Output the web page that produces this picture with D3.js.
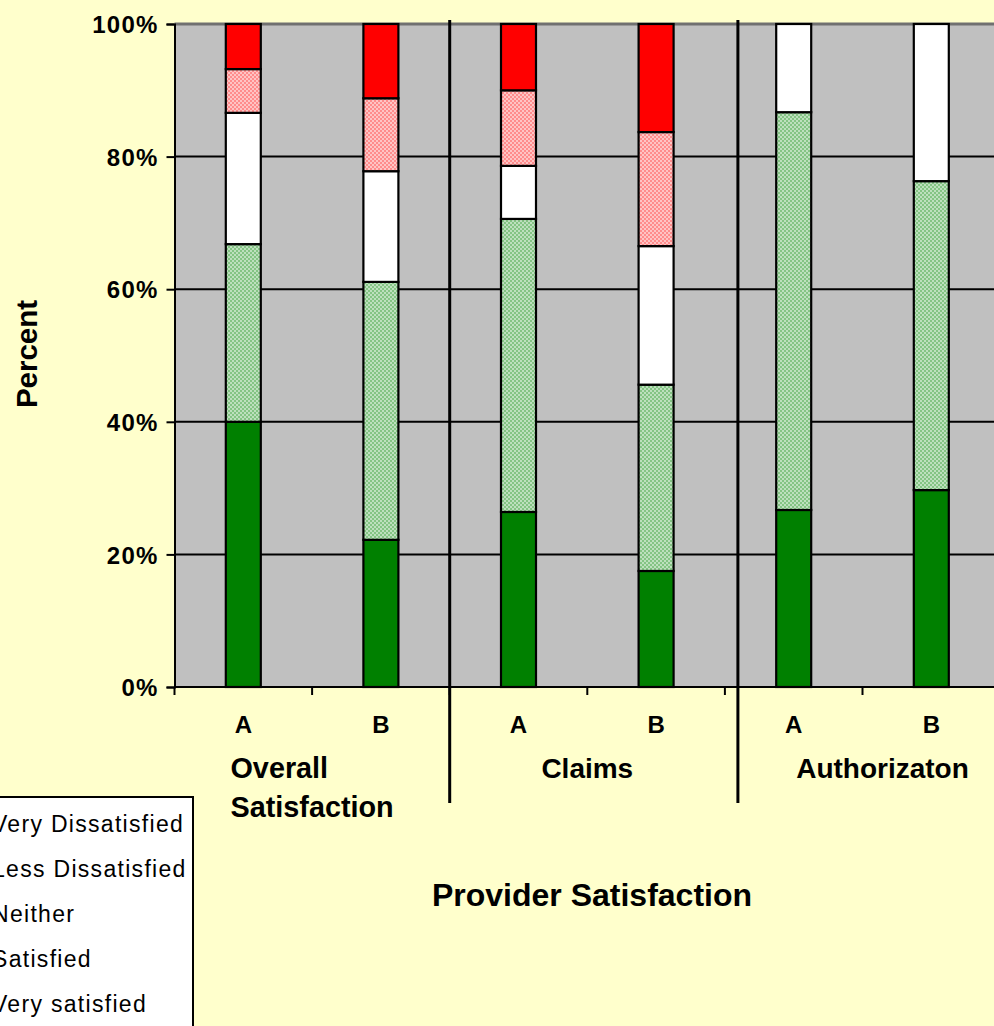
<!DOCTYPE html>
<html><head><meta charset="utf-8">
<script src="https://cdn.jsdelivr.net/npm/d3@7"></script>
<style>
html,body{margin:0;padding:0;background:#FFFFCC;overflow:hidden}
svg{display:block}
text{font-family:Arial,"Liberation Sans",sans-serif;fill:#000}
</style></head>
<body>
<script>
// ---- data ----
const groups = ["Overall Satisfaction", "Claims", "Authorizaton"];
const subLabels = ["A", "B", "A", "B", "A", "B"];
const seriesNames = ["Very Dissatisfied", "Less Dissatisfied", "Neither", "Satisfied", "Very satisfied"];
const veryDissatisfied = [6.8, 11.2, 10.0, 16.3, 0, 0];
const lessDissatisfied = [6.6, 11.0, 11.4, 17.2, 0, 0];
const neither = [19.8, 16.7, 8.0, 20.9, 13.3, 23.7];
const satisfied = [26.8, 38.9, 44.2, 28.1, 60.0, 46.6];
const verySatisfied = [40.0, 22.2, 26.4, 17.5, 26.7, 29.7];
const yTicks = [0, 20, 40, 60, 80, 100];
const yTickLabels = ["0%", "20%", "40%", "60%", "80%", "100%"];
const yTitle = "Percent";
const xTitle = "Provider Satisfaction";

// ---- layout ----
const W = 994, H = 1026;
const plotL = 174.5, plotT = 24, plotB = 687, step = 137.6;
const svg = d3.select("body").append("svg").attr("width", W).attr("height", H);
svg.append("rect").attr("width", W).attr("height", H).attr("fill", "#FFFFCC");

const defs = svg.append("defs");
function checker(id, c1, c2) {
  const p = defs.append("pattern").attr("id", id).attr("patternUnits", "userSpaceOnUse")
    .attr("width", 4).attr("height", 4);
  p.append("rect").attr("width", 4).attr("height", 4).attr("fill", c1);
  p.append("rect").attr("width", 2).attr("height", 2).attr("fill", c2);
  p.append("rect").attr("x", 2).attr("y", 2).attr("width", 2).attr("height", 2).attr("fill", c2);
}
checker("pinkPat", "#ff8c8c", "#ffc4c4");
checker("greenPat", "#84c484", "#bde0bd");
const fills = {
  "Very Dissatisfied": "#FF0000",
  "Less Dissatisfied": "url(#pinkPat)",
  "Neither": "#FFFFFF",
  "Satisfied": "url(#greenPat)",
  "Very satisfied": "#008000"
};

const idx = d3.range(subLabels.length);
const x = d3.scaleBand().domain(idx).range([plotL, plotL + step * idx.length])
  .paddingInner(1 - 35 / step).paddingOuter((1 - 35 / step) / 2);
const y = d3.scaleLinear().domain([0, 100]).range([plotB, plotT]);
const boundary = i => plotL + i * step;

// plot area
svg.append("rect").attr("x", plotL).attr("y", plotT).attr("width", W - plotL + 20).attr("height", plotB - plotT).attr("fill", "#C0C0C0");

// gridlines
svg.append("g").selectAll("line").data(yTicks.filter(t => t > 0)).join("line")
  .attr("x1", plotL).attr("x2", W + 10)
  .attr("y1", d => y(d)).attr("y2", d => y(d))
  .attr("stroke", d => d === 100 ? "#707070" : "#000")
  .attr("stroke-width", d => d === 100 ? 3 : 2);

// stacked bars
const table = idx.map(i => ({
  i,
  "Very satisfied": verySatisfied[i],
  "Satisfied": satisfied[i],
  "Neither": neither[i],
  "Less Dissatisfied": lessDissatisfied[i],
  "Very Dissatisfied": veryDissatisfied[i]
}));
const stackKeys = seriesNames.slice().reverse();
const stacked = d3.stack().keys(stackKeys)(table);
const gBars = svg.append("g");
stacked.forEach(layer => {
  gBars.append("g").selectAll("rect").data(layer.filter(d => d[1] - d[0] > 0)).join("rect")
    .attr("x", d => x(d.data.i))
    .attr("width", x.bandwidth())
    .attr("y", d => y(d[1]))
    .attr("height", d => y(d[0]) - y(d[1]))
    .attr("fill", fills[layer.key])
    .attr("stroke", "#000").attr("stroke-width", 2.2);
});

// axes
const yAxis = d3.axisLeft(y).tickValues(yTicks).tickSize(8).tickFormat((d, i) => yTickLabels[i]);
const gy = svg.append("g").attr("transform", `translate(${plotL},0)`).call(yAxis);
gy.select(".domain").attr("stroke", "#000").attr("stroke-width", 2);
gy.selectAll(".tick line").attr("stroke", "#000").attr("stroke-width", 2);
gy.selectAll(".tick text").attr("x", -16).attr("dy", "0.36em")
  .style("font-size", "24px").style("font-weight", "bold").style("letter-spacing", "1.2px")
  .style("font-family", "Arial, 'Liberation Sans', sans-serif").attr("fill", "#000");

// bottom axis line and ticks
svg.append("line").attr("x1", plotL).attr("x2", W + 10).attr("y1", plotB).attr("y2", plotB)
  .attr("stroke", "#000").attr("stroke-width", 2);
svg.append("g").selectAll("line").data(d3.range(idx.length + 1)).join("line")
  .attr("x1", d => boundary(d)).attr("x2", d => boundary(d))
  .attr("y1", plotB).attr("y2", plotB + 8).attr("stroke", "#000").attr("stroke-width", 2);

// A/B labels
svg.append("g").selectAll("text").data(idx).join("text")
  .attr("x", d => x(d) + x.bandwidth() / 2).attr("y", 733)
  .attr("text-anchor", "middle").style("font-size", "24px").style("font-weight", "bold")
  .text(d => subLabels[d]);

// group separators
const sepX = [boundary(2), boundary(4) + 13];
svg.append("g").selectAll("line").data(sepX).join("line")
  .attr("x1", d => d).attr("x2", d => d).attr("y1", 20).attr("y2", 803)
  .attr("stroke", "#000").attr("stroke-width", 3);

// group labels
const groupCenters = [(boundary(0) + boundary(2)) / 2, (boundary(2) + boundary(4)) / 2, boundary(5) + 20];
groups.forEach((g, gi) => {
  const words = gi === 0 ? ["Overall", "Satisfaction"] : [g];
  const t = svg.append("text").style("font-size", gi === 0 ? "28.8px" : "28px").style("font-weight", "bold");
  words.forEach((w, wi) => t.append("tspan").attr("y", 778 + wi * 39).text(w));
  // left aligned block centered at group center
  let maxW = 0;
  t.selectAll("tspan").each(function () { maxW = Math.max(maxW, this.getComputedTextLength()); });
  t.selectAll("tspan").attr("x", groupCenters[gi] - maxW / 2);
});

// axis titles
svg.append("text").attr("transform", "translate(37,354) rotate(-90)").attr("text-anchor", "middle")
  .style("font-size", "29.5px").style("font-weight", "bold").text(yTitle);
svg.append("text").attr("x", 592).attr("y", 906).attr("text-anchor", "middle")
  .style("font-size", "32px").style("font-weight", "bold").text(xTitle);

// legend
const lg = svg.append("g");
lg.append("rect").attr("x", -70).attr("y", 797).attr("width", 263).attr("height", 260)
  .attr("fill", "#fff").attr("stroke", "#000").attr("stroke-width", 2);
seriesNames.forEach((s, i) => {
  lg.append("rect").attr("x", -52).attr("y", 832 + i * 45 - 14).attr("width", 14).attr("height", 14)
    .attr("fill", fills[s]).attr("stroke", "#000");
  lg.append("text").attr("x", -8).attr("y", 832 + i * 45)
    .style("font-size", "23px").style("letter-spacing", "1.3px").text(s);
});
</script>
</body></html>
